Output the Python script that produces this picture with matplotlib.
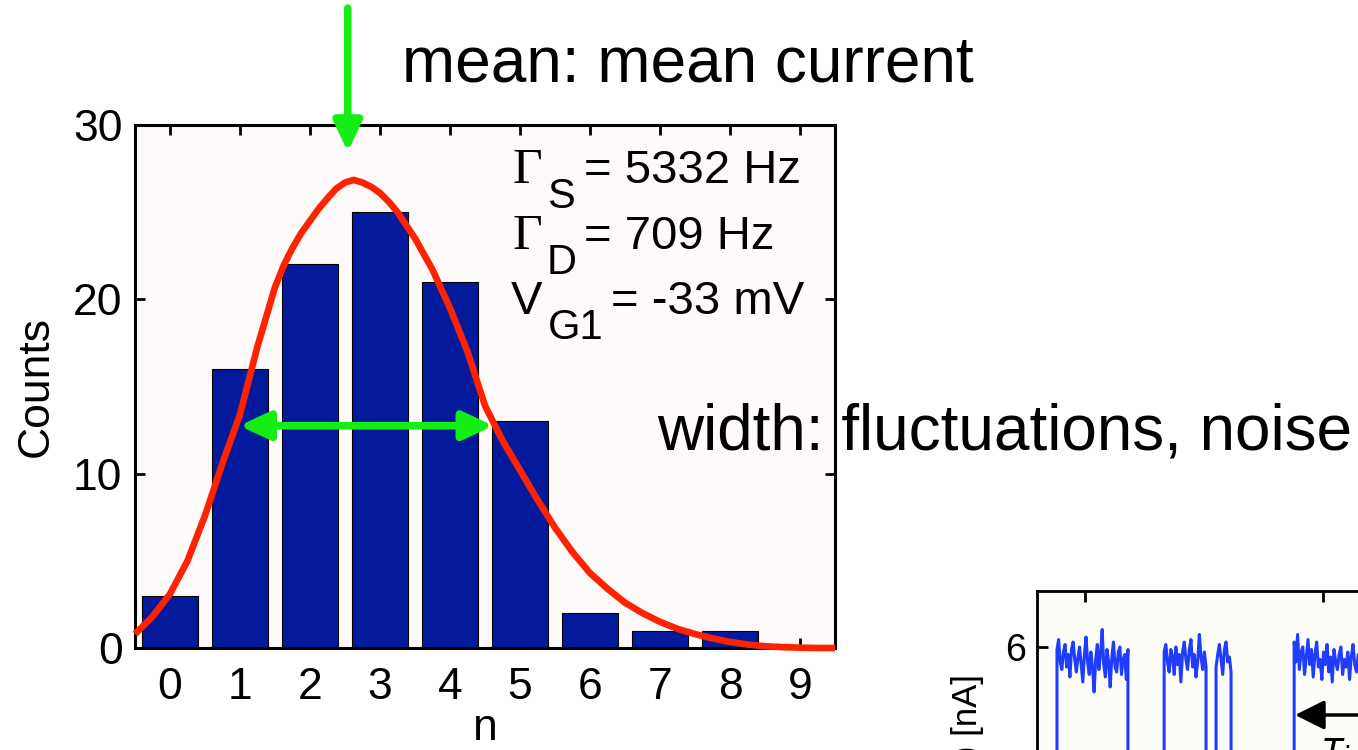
import numpy as np
import matplotlib
matplotlib.use("Agg")
import matplotlib.pyplot as plt

plt.rcParams['font.family'] = ['Liberation Sans', 'DejaVu Sans']

# histogram of counts per time bin
n_vals = [0, 1, 2, 3, 4, 5, 6, 7, 8, 9]
counts = [3, 16, 22, 25, 21, 13, 2, 1, 1, 0]

# fitted distribution, read along n
fit_n = [-0.5, -0.25, 0.0, 0.25, 0.5, 0.75, 1.0, 1.25, 1.5, 1.625, 1.75,
         1.875, 2.0, 2.125, 2.25, 2.375, 2.5, 2.625, 2.75, 2.875, 3.0, 3.125,
         3.25, 3.5, 3.75, 4.0, 4.25, 4.5, 4.75, 5.0, 5.25, 5.5, 5.75, 6.0,
         6.25, 6.5, 6.75, 7.0, 7.25, 7.5, 7.75, 8.0, 8.25, 8.5, 8.75, 9.0,
         9.25, 9.5]
fit_y = [0.8, 1.8, 3.1, 5.0, 7.6, 10.6, 13.4, 17.3, 20.7, 21.95, 22.95,
         23.8, 24.5, 25.2, 25.8, 26.35, 26.7, 26.85, 26.7, 26.45, 26.1, 25.6,
         25.0, 23.5, 21.7, 19.5, 17.0, 13.9, 11.9, 10.2, 8.5, 6.9, 5.5, 4.3,
         3.4, 2.6, 2.0, 1.5, 1.1, 0.8, 0.55, 0.35, 0.2, 0.1, 0.05, 0.02,
         0.0, 0.0]

# current trace: high-level stretches, low level in between
low_level = 2.5
seg_times = [(0.884, 1.182), (1.334, 1.510), (1.552, 1.615), (1.880, 2.200)]
seg1 = [5.95, 6.15, 5.70, 5.55, 5.90, 6.05, 5.60, 5.85, 5.40, 5.95, 6.10, 5.75,
        5.50, 5.80, 6.00, 5.65, 5.30, 5.85, 6.20, 5.70, 5.45, 5.90, 5.60, 5.10,
        5.75, 6.05, 5.55, 5.85, 6.35, 5.65, 5.40, 5.95, 5.70, 5.20, 5.80, 6.10,
        5.60, 5.50, 5.90, 6.00, 5.45, 5.75, 5.85, 5.35, 5.95]
seg2 = [5.90, 6.05, 5.70, 5.50, 5.95, 5.80, 5.45, 6.00, 5.65, 5.85, 5.30, 5.90,
        6.10, 5.75, 5.55, 5.95, 6.15, 5.60, 5.85, 5.40, 5.70, 6.25, 5.80, 5.55,
        5.90, 5.60]
seg3 = [5.60, 5.85, 6.05, 5.75, 5.45, 5.95, 6.10, 5.70, 5.80, 5.50]
seg4 = [6.10, 5.70, 6.25, 5.55, 5.90, 6.00, 5.45, 5.80, 6.15, 5.65, 5.95, 5.40,
        5.85, 6.10, 5.60, 5.75, 5.35, 5.90, 5.65, 6.05, 5.50, 5.80, 5.30, 5.95,
        5.70, 5.55, 5.85, 6.00, 5.45, 5.75, 5.60, 5.90, 5.35, 5.80, 6.05, 5.65,
        5.50, 5.85, 5.70, 5.95, 5.40, 5.75, 5.60, 5.90, 5.55]
segments = [seg1, seg2, seg3, seg4]

W, H = 1358, 750
green = '#14ee14'


def px(x, y):
    return x / W, 1 - y / H


fig = plt.figure(figsize=(W / 100, H / 100), dpi=100)
fig.patch.set_facecolor('white')

# ---- main histogram ----
ax = fig.add_axes([135 / W, 1 - 648 / H, 700 / W, 523 / H])
ax.set_facecolor('#fffafa')
ax.bar(n_vals, counts, width=0.8, color='#031a9c', edgecolor='black',
       linewidth=0.8, zorder=2)
ax.plot(fit_n, fit_y, color='#ff2200', lw=4.8, zorder=5, clip_on=False,
        solid_capstyle='butt', solid_joinstyle='round')
ax.set_xlim(-0.5, 9.5)
ax.set_ylim(0, 30)
ax.set_xticks(n_vals)
ax.set_yticks([0, 10, 20, 30])
ax.tick_params(direction='in', length=7, width=2, top=True, right=True,
               labelsize=32)
ax.tick_params(axis='x', pad=14)
ax.tick_params(axis='y', pad=9)
for s in ax.spines.values():
    s.set_linewidth(2.2)
ax.set_xlabel('n', fontsize=32, labelpad=0)
ax.set_ylabel('Counts', fontsize=32, labelpad=12)

arrow_head = 'head_length=0.9,head_width=0.42'
# mean arrow
ax.annotate('', xy=(2.54, 28.45), xytext=(2.54, 36.7),
            arrowprops=dict(arrowstyle='-|>,' + arrow_head,
                            color=green, lw=5.5, mutation_scale=20,
                            shrinkA=0, shrinkB=0),
            annotation_clip=False, zorder=6)
# width arrow
ax.annotate('', xy=(4.62, 12.75), xytext=(0.99, 12.75),
            arrowprops=dict(arrowstyle='<|-|>,' + arrow_head,
                            color=green, lw=5.5, mutation_scale=20,
                            shrinkA=0, shrinkB=0),
            zorder=6)

# parameter block
big = 34
sub = 30
rows = [('Γ', 'S', '= 5332 Hz', 183), ('Γ', 'D', '= 709 Hz', 249)]
for sym, idx, rest, base in rows:
    fig.text(*px(513, base), sym, fontsize=37, family='Liberation Serif',
             va='baseline')
    fig.text(*px(547, base + 25), idx, fontsize=sub, va='baseline')
    fig.text(*px(584, base), rest, fontsize=big, va='baseline')
fig.text(*px(511, 314), 'V', fontsize=big, va='baseline')
fig.text(*px(548, 339), 'G1', fontsize=sub, va='baseline')
fig.text(*px(611, 314), '= -33 mV', fontsize=big, va='baseline')

fig.text(*px(402, 82), 'mean: mean current', fontsize=46, va='baseline')
fig.text(*px(657, 450), 'width: fluctuations, noise', fontsize=46,
         va='baseline')

# ---- current trace panel ----
ax2 = fig.add_axes([1037 / W, 1 - 891 / H, 500 / W, 300 / H])
ax2.set_facecolor('#fdfdf7')
t = [0.8]
i = [low_level]
for (t0, t1), vals in zip(seg_times, segments):
    tt = np.linspace(t0, t1, len(vals))
    t += [t0] + list(tt) + [t1]
    i += [low_level] + vals + [low_level]
ax2.plot(t, i, color='#1f3cff', lw=2.2)
ax2.set_xlim(0.8, 2.9)
ax2.set_ylim(1.12, 7.12)
ax2.set_xticks([1, 2])
ax2.set_yticks([6])
ax2.tick_params(direction='in', length=8, width=2, top=True, labelsize=27,
                labelbottom=False, pad=8)
for s in ax2.spines.values():
    s.set_linewidth(2)
ax2.text(-0.138, 0.533, 'I(t) [nA]', rotation=90, fontsize=25,
         transform=ax2.transAxes, ha='center', va='center')
ax2.annotate('', xy=(1.884, 4.64), xytext=(2.6, 4.64),
             arrowprops=dict(arrowstyle='-|>,head_length=0.9,head_width=0.45',
                             color='black', lw=2.5, mutation_scale=20,
                             shrinkA=0, shrinkB=0))
ax2.text(1.99, 4.3, r'$\tau_{\rm in}$', fontsize=28, va='top')

fig.savefig('out.png', dpi=100)
